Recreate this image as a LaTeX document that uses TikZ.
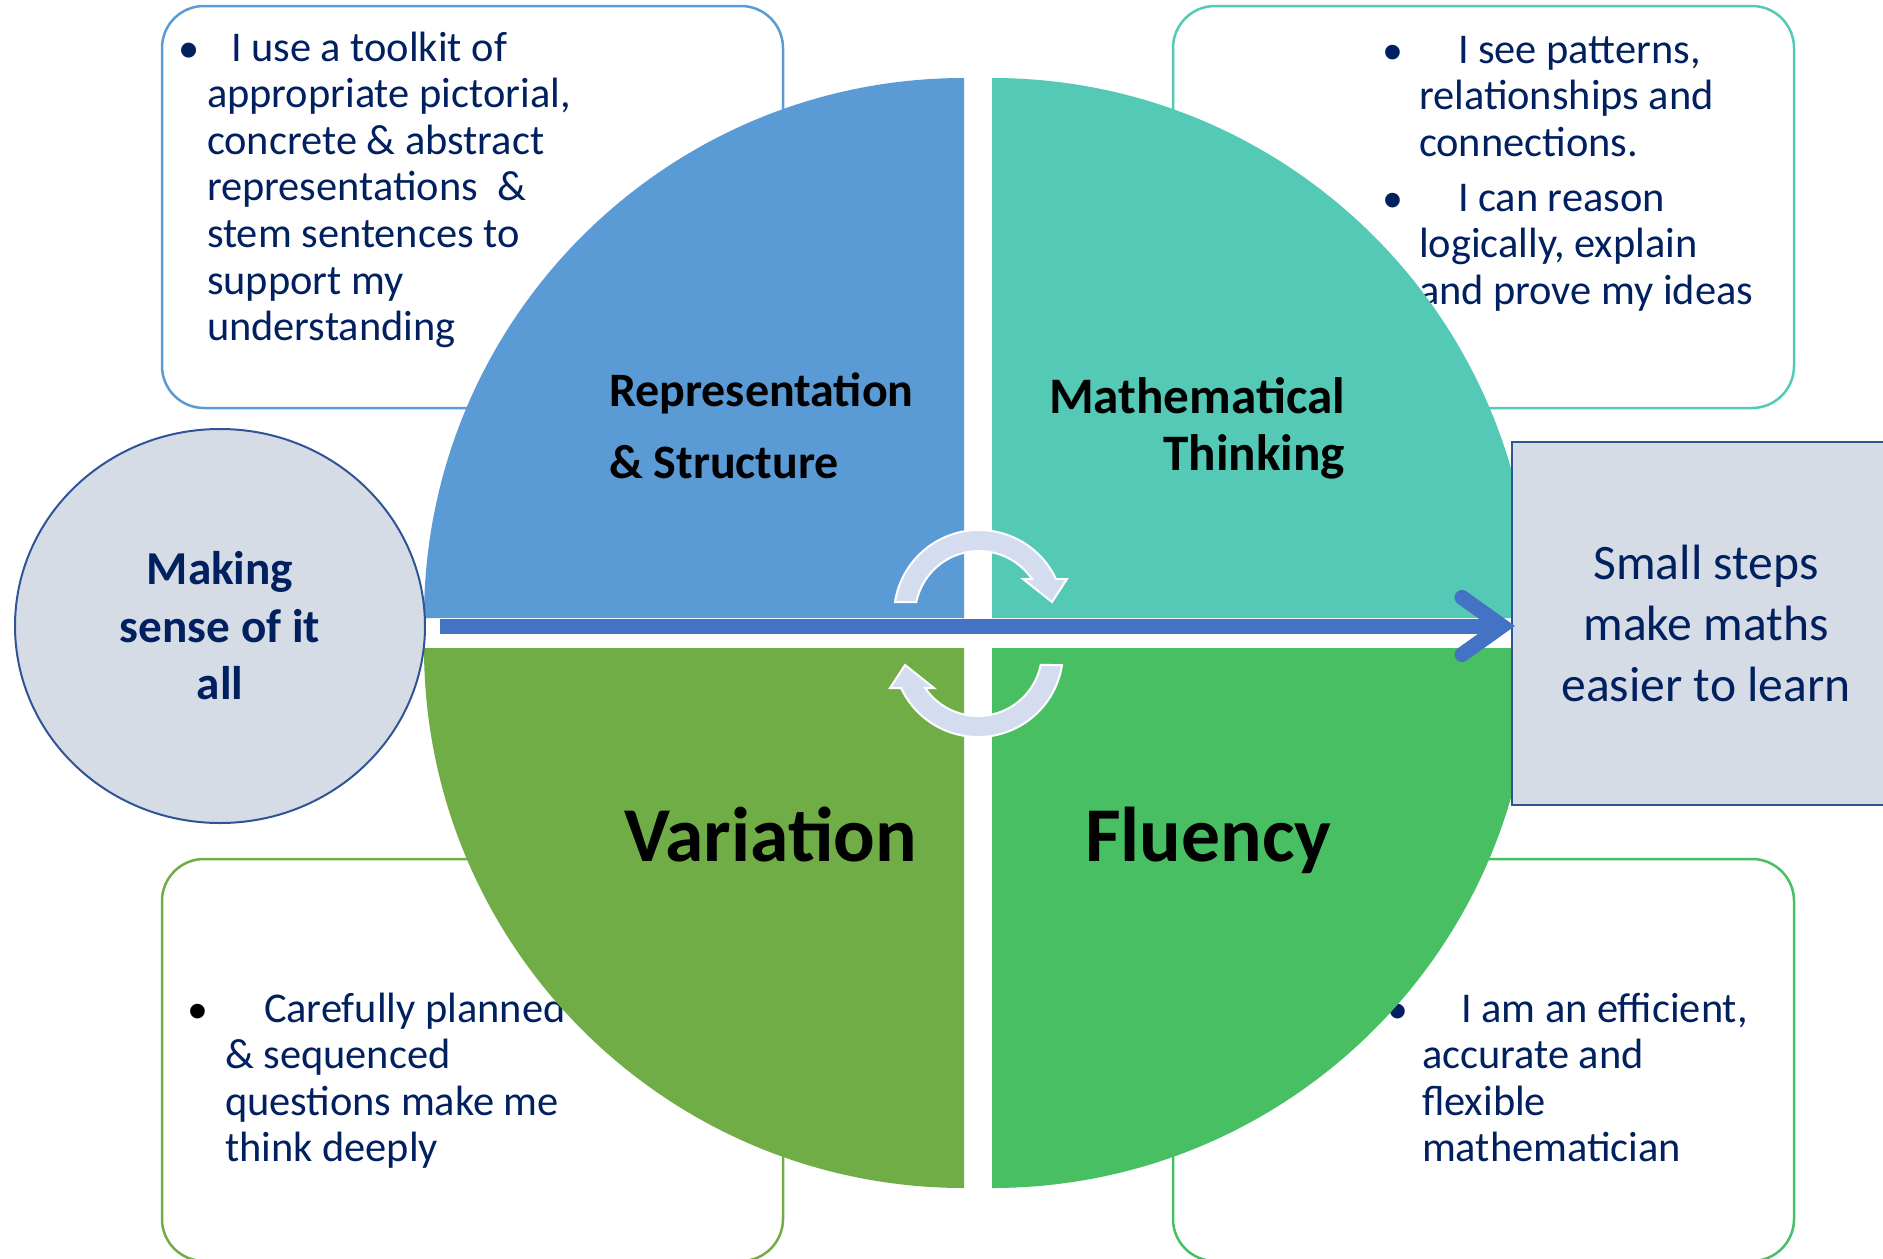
\documentclass[tikz,border=0pt]{standalone}
\usepackage{fontspec}
\setmainfont{Carlito}
\newfontfamily\bulletfont{Liberation Sans}
\usetikzlibrary{shapes.geometric,calc}

\definecolor{navy}{HTML}{002060}
\definecolor{repblue}{HTML}{5B9BD5}
\definecolor{thinkteal}{HTML}{53C9B6}
\definecolor{vargreen}{HTML}{70AD47}
\definecolor{flugreen}{HTML}{49BF64}
\definecolor{paleblue}{HTML}{D6DCE5}
\definecolor{edgeblue}{HTML}{2F5597}
\definecolor{flowblue}{HTML}{4472C4}
\definecolor{cyclefill}{HTML}{D3DDEF}

% stacked lines with a fixed baseline distance; the box baseline is the first line
\newcommand\Llines[2]{\vtop{\baselineskip=#1\relax\lineskiplimit=-\maxdimen\lineskip=0pt\halign{##\hfil\cr#2\crcr}}}
\newcommand\Clines[2]{\vtop{\baselineskip=#1\relax\lineskiplimit=-\maxdimen\lineskip=0pt\halign{\hfil##\hfil\cr#2\crcr}}}
\newcommand\Rlines[2]{\vtop{\baselineskip=#1\relax\lineskiplimit=-\maxdimen\lineskip=0pt\halign{\hfil##\cr#2\crcr}}}

\begin{document}
\begin{tikzpicture}[x=0.5pt,y=-0.5pt,
  every node/.style={inner sep=0pt,outer sep=0pt},
  card/.style={draw,fill=white,rounded corners=21pt,line width=1.25pt,
    minimum width=310.5pt,minimum height=201pt},
  cardtext/.style={anchor=base west,text=navy,font=\fontsize{21.2pt}{23.33pt}\selectfont},
  dot/.style={anchor=base,text=navy,font=\bulletfont\fontsize{27pt}{30pt}\selectfont},
  quadlabel/.style={text=black,font=\bfseries\fontsize{24pt}{28pt}\selectfont},
  biglabel/.style={anchor=base west,text=black,font=\bfseries\fontsize{38.8pt}{46pt}\selectfont},
  cyclearrow/.style={fill=cyclefill,draw=white,line width=1pt,line join=miter},
  flowline/.style={draw=flowblue,line width=7.5pt}]

\useasboundingbox (0,0) rectangle (1883,1258);
\clip (0,0) rectangle (1883,1258);

% four cards behind the circle
\node[card,draw=repblue]   (cardTL) at (472.5,207) {};
\node[card,draw=thinkteal] (cardTR) at (1483.5,207) {};
\node[card,draw=vargreen]  (cardBL) at (472.5,1060) {};
\node[card,draw=flugreen]  (cardBR) at (1483.5,1060) {};

\node[dot,font=\fontsize{21.2pt}{24pt}\selectfont] (bTL) at (189.5,62) {•};
\node[cardtext] (txtTL) at (207,61) {\Llines{23.33pt}{\kern12pt I use a toolkit of\cr
  appropriate pictorial,\cr concrete \& abstract\cr representations~ \&\cr
  stem sentences to\cr support my\cr understanding}};

\node[dot] (bTR1) at (1393,70) {•};
\node[cardtext] (txtTR1) at (1419,63) {\Llines{23.33pt}{\kern19.5pt I see patterns,\cr
  relationships and\cr connections.}};
\node[dot] (bTR2) at (1393,218) {•};
\node[cardtext] (txtTR2) at (1419,211) {\Llines{23.33pt}{\kern19.5pt I can reason\cr
  logically, explain\cr and prove my ideas}};

\node[dot,text=black] (bBL) at (198,1029) {•};
\node[cardtext] (txtBL) at (225,1022) {\Llines{23.33pt}{\kern19.5pt Carefully planned\cr
  \& sequenced\cr questions make me\cr think deeply}};

\node[dot] (bBR) at (1398,1029) {•};
\node[cardtext] (txtBR) at (1422,1022) {\Llines{23.33pt}{\kern19.5pt I am an efficient,\cr
  accurate and\cr flexible\cr mathematician}};

% the four quadrants
\fill[repblue]   (964,618) -- (964,78)  arc[start angle=270,end angle=180,radius=540] -- cycle;
\fill[thinkteal] (992,618) -- (992,78)  arc[start angle=270,end angle=360,radius=540] -- cycle;
\fill[vargreen]  (964,648) -- (424,648) arc[start angle=180,end angle=90,radius=540] -- cycle;
\fill[flugreen]  (992,648) -- (992,1188) arc[start angle=90,end angle=0,radius=540] -- cycle;

\node[quadlabel,anchor=base west] (lblRep) at (609,406)
  {\Llines{36pt}{Representation\cr \& Structure}};
\node[quadlabel,anchor=base east,font=\bfseries\fontsize{25.6pt}{30pt}\selectfont] (lblMath) at (1345,413)
  {\Rlines{28.5pt}{Mathematical\cr Thinking}};
\node[biglabel] (lblVar) at (624,861) {Variation};
\node[biglabel] (lblFlu) at (1085,861) {Fluency};

% the two curved cycle arrows
\path[cyclearrow] (895,602) arc[start angle=188.8,end angle=334.94,radius=85]
  -- (1067,579) -- (1052,602) -- (1023,579) -- (1031.9,579)
  arc[start angle=325.77,end angle=191.7,radius=64] -- cycle;
\begin{scope}[rotate around={180:(978.5,633.5)}]
\path[cyclearrow] (895,602) arc[start angle=188.8,end angle=334.94,radius=85]
  -- (1067,579) -- (1052,602) -- (1023,579) -- (1031.9,579)
  arc[start angle=325.77,end angle=191.7,radius=64] -- cycle;
\end{scope}

% side shapes
\node[ellipse,draw=edgeblue,fill=paleblue,line width=1pt,
  minimum width=205pt,minimum height=197pt,text=navy,
  font=\bfseries\fontsize{23.6pt}{28pt}\selectfont] (sense) at (220,626)
  {\Clines{28.75pt}{Making\cr sense of it\cr all}};
\node[rectangle,draw=edgeblue,fill=paleblue,line width=1.3pt,
  minimum width=194pt,minimum height=181.5pt,text=navy,
  font=\fontsize{24.8pt}{30pt}\selectfont] (steps) at (1706,623.5)
  {\Clines{30.5pt}{Small steps\cr make maths\cr easier to learn}};

% the flow arrow from one side to the other
\coordinate (tipc) at ([xshift=-5pt]steps.west |- sense.east);
\draw[flowline] ([xshift=7.5pt]sense.east) -- (tipc);
\draw[flowline,line cap=round,line join=miter]
  ($(tipc)+(-40,-28.5)$) -- (tipc) -- ($(tipc)+(-40,28.5)$);
\end{tikzpicture}
\end{document}
